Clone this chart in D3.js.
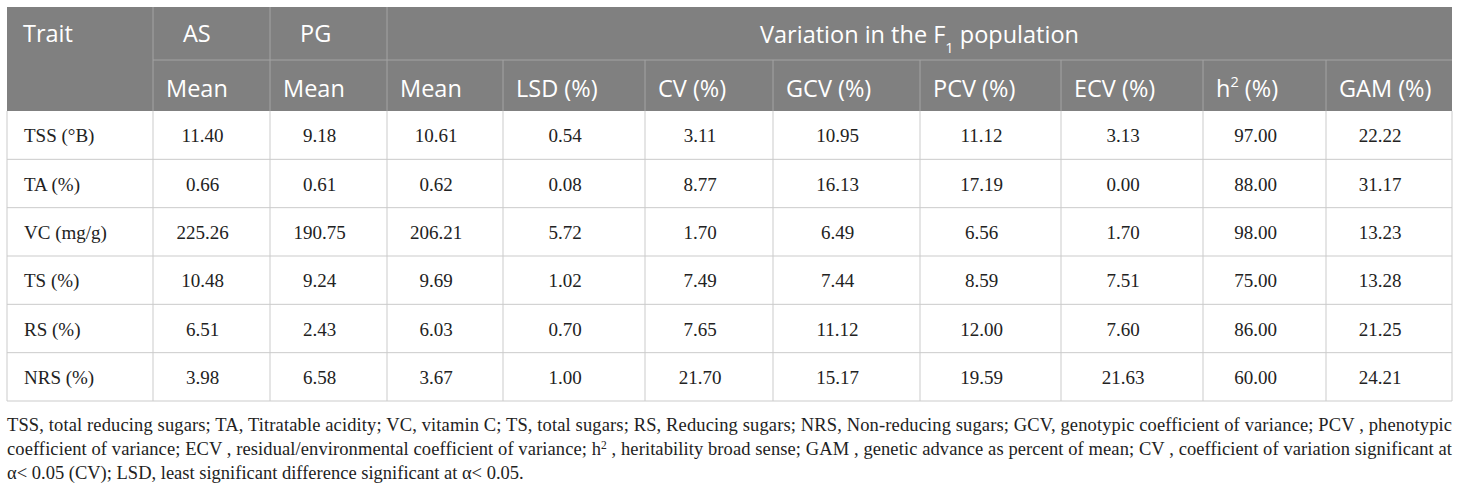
<!DOCTYPE html>
<html>
<head>
<meta charset="utf-8">
<script src="https://cdn.jsdelivr.net/npm/d3@7"></script>
<style>
  body { margin: 0; background: #fff; }
  svg { display: block; }
</style>
</head>
<body>
<div id="container"></div>
<script>
// canvas size
var width = 1460;
var height = 488;

//-----------------------------DATA------------------------------//
var traits = ["TSS (°B)", "TA (%)", "VC (mg/g)", "TS (%)", "RS (%)", "NRS (%)"];

var asMean = [11.40, 0.66, 225.26, 10.48, 6.51, 3.98];
var pgMean = [9.18, 0.61, 190.75, 9.24, 2.43, 6.58];
var f1Mean = [10.61, 0.62, 206.21, 9.69, 6.03, 3.67];
var lsd = [0.54, 0.08, 5.72, 1.02, 0.70, 1.00];
var cv = [3.11, 8.77, 1.70, 7.49, 7.65, 21.70];
var gcv = [10.95, 16.13, 6.49, 7.44, 11.12, 15.17];
var pcv = [11.12, 17.19, 6.56, 8.59, 12.00, 19.59];
var ecv = [3.13, 0.00, 1.70, 7.51, 7.60, 21.63];
var h2 = [97.00, 88.00, 98.00, 75.00, 86.00, 60.00];
var gam = [22.22, 31.17, 13.23, 13.28, 21.25, 24.21];

// header labels ("^2" = superscript, "_1" = subscript)
var topHeaders = ["Trait", "AS", "PG"];
var groupHeader = "Variation in the F_1 population";
var subHeaders = ["Mean", "Mean", "Mean", "LSD (%)", "CV (%)", "GCV (%)", "PCV (%)", "ECV (%)", "h^2 (%)", "GAM (%)"];

var footnoteLines = [
    "TSS, total reducing sugars; TA, Titratable acidity; VC, vitamin C; TS, total sugars; RS, Reducing sugars; NRS, Non-reducing sugars; GCV, genotypic coefficient of variance; PCV , phenotypic",
    "coefficient of variance; ECV , residual/environmental coefficient of variance; h^2 , heritability broad sense; GAM , genetic advance as percent of mean; CV , coefficient of variation significant at",
    "α< 0.05 (CV); LSD, least significant difference significant at α< 0.05."
];

var columns = [asMean, pgMean, f1Mean, lsd, cv, gcv, pcv, ecv, h2, gam];

//----------------------------LAYOUT-----------------------------//
var colWidths = [146, 117, 117, 116, 142, 128, 147, 141, 142, 123, 126];
var left = 7;
var colEdges = [left].concat(Array.from(d3.cumsum(colWidths), function (d) { return d + left; }));
var right = colEdges[colEdges.length - 1];

var headTop = 7, headMid = 60, headBottom = 111, tableBottom = 401;

var yScale = d3.scaleBand()
    .domain(traits)
    .range([headBottom, tableBottom]);

var fmt = d3.format(".2f");

var headFill = "#808080";
var headLine = "#a3a3a3";
var gridLine = "#cbcbcb";
var sansFont = "'Open Sans', 'Noto Sans', sans-serif";
var serifFont = "'Liberation Serif', 'Times New Roman', serif";
var headSize = 23.5;
var footSize = 18.5;

var svg = d3.select("div#container").append("svg")
    .attr("width", width)
    .attr("height", height);

// helper: write text with ^ (sup) and _ (sub) markers as tspans
function richText(sel, str, size) {
    var parts = str.split(/([\^_]\d)/);
    parts.forEach(function (p) {
        if (!p) return;
        if (p[0] === "^") {
            sel.append("tspan").attr("baseline-shift", "super")
                .style("font-size", (size * 0.62) + "px").text(p.slice(1));
        } else if (p[0] === "_") {
            sel.append("tspan").attr("baseline-shift", "sub")
                .style("font-size", (size * 0.62) + "px").text(p.slice(1));
        } else {
            sel.append("tspan").text(p);
        }
    });
}

//----------------------------HEADER-----------------------------//
svg.append("rect")
    .attr("x", left)
    .attr("y", headTop)
    .attr("width", right - left)
    .attr("height", headBottom - headTop)
    .attr("fill", headFill);

// header lines
svg.append("line")
    .attr("x1", colEdges[1]).attr("x2", right)
    .attr("y1", headMid).attr("y2", headMid)
    .attr("stroke", headLine);

svg.selectAll(".hv1")
    .data([colEdges[1], colEdges[2], colEdges[3]])
    .enter().append("line")
    .attr("x1", d => d).attr("x2", d => d)
    .attr("y1", headTop).attr("y2", headBottom)
    .attr("stroke", headLine);

svg.selectAll(".hv2")
    .data(colEdges.slice(4, colEdges.length - 1))
    .enter().append("line")
    .attr("x1", d => d).attr("x2", d => d)
    .attr("y1", headMid).attr("y2", headBottom)
    .attr("stroke", headLine);

var topPad = [16, 30, 30];
svg.selectAll(".topHead")
    .data(topHeaders)
    .enter().append("text")
    .attr("x", (d, i) => colEdges[i] + topPad[i])
    .attr("y", headTop + 35)
    .style("font-family", sansFont)
    .style("font-size", headSize + "px")
    .style("fill", "white")
    .text(d => d);

svg.append("text")
    .attr("x", (colEdges[3] + right) / 2)
    .attr("y", headTop + 36)
    .attr("text-anchor", "middle")
    .style("font-family", sansFont)
    .style("font-size", headSize + "px")
    .style("fill", "white")
    .call(richText, groupHeader, headSize);

svg.selectAll(".subHead")
    .data(subHeaders)
    .enter().append("text")
    .attr("x", (d, i) => colEdges[i + 1] + 13)
    .attr("y", headMid + 37)
    .style("font-family", sansFont)
    .style("font-size", headSize + "px")
    .style("fill", "white")
    .each(function (d) { d3.select(this).call(richText, d, headSize); });

//-----------------------------BODY------------------------------//
// horizontal grid
svg.selectAll(".rowLine")
    .data(traits)
    .enter().append("line")
    .attr("x1", left).attr("x2", right)
    .attr("y1", d => yScale(d) + yScale.bandwidth())
    .attr("y2", d => yScale(d) + yScale.bandwidth())
    .attr("stroke", gridLine);

// vertical grid
svg.selectAll(".colLine")
    .data(colEdges)
    .enter().append("line")
    .attr("x1", d => d).attr("x2", d => d)
    .attr("y1", headBottom).attr("y2", tableBottom)
    .attr("stroke", gridLine);

svg.selectAll(".trait")
    .data(traits)
    .enter().append("text")
    .attr("x", left + 17)
    .attr("y", d => yScale(d) + yScale.bandwidth() / 2 + 7)
    .style("font-family", serifFont)
    .style("font-size", "19px")
    .style("fill", "#222")
    .text(d => d);

var cols = svg.selectAll(".valCol")
    .data(columns)
    .enter().append("g");

cols.selectAll("text")
    .data(function (col, ci) { return col.map(function (v, ri) { return { v: v, ci: ci, ri: ri }; }); })
    .enter().append("text")
    .attr("x", d => (colEdges[d.ci + 1] + colEdges[d.ci + 2]) / 2 - 9)
    .attr("y", d => yScale(traits[d.ri]) + yScale.bandwidth() / 2 + 7)
    .attr("text-anchor", "middle")
    .style("font-family", serifFont)
    .style("font-size", "19px")
    .style("fill", "#222")
    .text(d => fmt(d.v));

//---------------------------FOOTNOTE----------------------------//
svg.selectAll(".foot")
    .data(footnoteLines)
    .enter().append("text")
    .attr("x", left)
    .attr("y", (d, i) => 431 + i * 24)
    .attr("textLength", (d, i) => i < footnoteLines.length - 1 ? right - left : null)
    .attr("lengthAdjust", "spacing")
    .style("font-family", serifFont)
    .style("font-size", footSize + "px")
    .style("fill", "#222")
    .each(function (d) { d3.select(this).call(richText, d, footSize); });
</script>
</body>
</html>
